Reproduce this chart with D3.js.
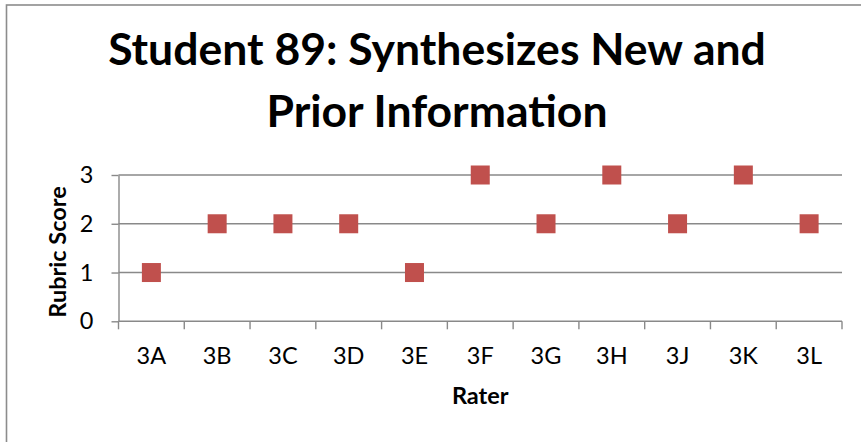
<!DOCTYPE html>
<html>
<head>
<meta charset="utf-8">
<script src="https://cdn.jsdelivr.net/npm/d3@7"></script>
<style>
  html, body { margin: 0; padding: 0; background: #fff; }
  svg { display: block; font-family: Lato, "Open Sans", "DejaVu Sans", sans-serif; }
</style>
</head>
<body>
<svg id="chart" width="861" height="442"></svg>
<script>
// Rubric scores given by each rater
const raters = ["3A", "3B", "3C", "3D", "3E", "3F", "3G", "3H", "3J", "3K", "3L"];
const scores = [1, 2, 2, 2, 1, 3, 2, 3, 2, 3, 2];
const yTicks = [0, 1, 2, 3];
const titleLines = ["Student 89: Synthesizes New and", "Prior Information"];
const xTitle = "Rater";
const yTitle = "Rubric Score";

const W = 861, H = 442;
const margin = { left: 118.5, right: 19, top: 175, bottom: 120.7 };
const svg = d3.select("#chart");
const labelSize = 23.5;

// chart frame
svg.append("rect")
  .attr("x", 6.5).attr("y", 5)
  .attr("width", W + 10).attr("height", H + 10)
  .attr("fill", "#fff").attr("stroke", "#8c8c8c").attr("stroke-width", 1.6);

const x = d3.scaleBand().domain(raters).range([margin.left, W - margin.right]);
const y = d3.scaleLinear().domain([0, 3]).range([H - margin.bottom, margin.top]);

const axisColor = "#898989";

// horizontal gridlines
svg.append("g").selectAll("line")
  .data(yTicks.filter(d => d > 0))
  .join("line")
  .attr("x1", margin.left).attr("x2", W - margin.right)
  .attr("y1", d => y(d)).attr("y2", d => y(d))
  .attr("stroke", axisColor).attr("stroke-width", 1.4);

// y axis
const yAxis = svg.append("g")
  .attr("transform", `translate(${margin.left},0)`)
  .call(d3.axisLeft(y).tickValues(yTicks).tickFormat(d3.format("d"))
    .tickSize(7).tickPadding(18).tickSizeOuter(0));
yAxis.select(".domain").attr("stroke", axisColor).attr("stroke-width", 1.4);
yAxis.selectAll(".tick line").attr("stroke", axisColor).attr("stroke-width", 1.4);
yAxis.selectAll(".tick text")
  .attr("font-size", labelSize).attr("fill", "#000")
  .attr("font-family", "Lato, sans-serif");

// x axis with ticks on category boundaries
const xAxisG = svg.append("g")
  .attr("transform", `translate(0,${y(0)})`);
xAxisG.append("line")
  .attr("x1", margin.left).attr("x2", W - margin.right)
  .attr("stroke", axisColor).attr("stroke-width", 1.4);
const boundaries = raters.map(r => x(r)).concat([x(raters[raters.length - 1]) + x.bandwidth()]);
xAxisG.selectAll("line.tk")
  .data(boundaries)
  .join("line").attr("class", "tk")
  .attr("x1", d => d).attr("x2", d => d)
  .attr("y1", 0).attr("y2", 8)
  .attr("stroke", axisColor).attr("stroke-width", 1.4);
xAxisG.selectAll("text")
  .data(raters)
  .join("text")
  .attr("x", d => x(d) + x.bandwidth() / 2)
  .attr("y", 42.7)
  .attr("text-anchor", "middle")
  .attr("font-size", labelSize)
  .attr("fill", "#000")
  .text(d => d);

// score markers
const size = 19;
svg.append("g").selectAll("rect")
  .data(raters.map((r, i) => ({ r, v: scores[i] })))
  .join("rect")
  .attr("x", d => x(d.r) + x.bandwidth() / 2 - size / 2)
  .attr("y", d => y(d.v) - size / 2)
  .attr("width", size).attr("height", size)
  .attr("fill", "#C0504D");

// axis titles
svg.append("text")
  .attr("x", (margin.left + W - margin.right) / 2)
  .attr("y", 404)
  .attr("text-anchor", "middle")
  .attr("font-size", labelSize).attr("font-weight", "bold")
  .text(xTitle);

svg.append("text")
  .attr("transform", `translate(66,252) rotate(-90)`)
  .attr("text-anchor", "middle")
  .attr("font-size", labelSize).attr("font-weight", "bold")
  .text(yTitle);

// chart title, two centred lines
const titleY = [65, 127];
svg.append("g").selectAll("text")
  .data(titleLines)
  .join("text")
  .attr("x", 437)
  .attr("y", (d, i) => titleY[i])
  .attr("text-anchor", "middle")
  .attr("font-size", 44.5)
  .attr("font-weight", "bold")
  .attr("fill", "#000")
  .text(d => d);
</script>
</body>
</html>
